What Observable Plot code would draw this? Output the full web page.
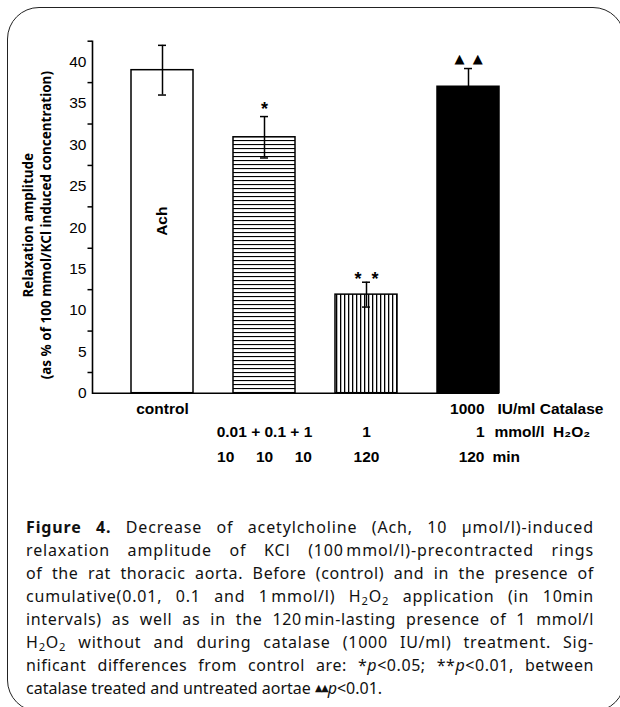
<!DOCTYPE html>
<html><head><meta charset="utf-8">
<script src="https://cdn.jsdelivr.net/npm/d3@7"></script>
<script src="https://cdn.jsdelivr.net/npm/@observablehq/plot@0.6"></script>
<style>
body{margin:0;background:#fff;width:620px;height:707px;overflow:hidden;position:relative;}
#frame{position:absolute;left:7px;top:7px;width:618px;height:705px;border:1.6px solid #222;border-radius:32px;box-sizing:border-box;}
#chart{position:absolute;left:0;top:0;}
#caption{position:absolute;left:26px;top:516px;width:568px;font-family:"Noto Sans",sans-serif;font-size:16px;color:#111;}
.ln{height:23px;line-height:23px;white-space:nowrap;}
.ln span.in{display:inline-block;}
.ln.fit{text-align:justify;text-align-last:justify;white-space:normal;}
.ln.fit span.in{display:inline;}
sub{font-size:0.7em;vertical-align:-0.3em;line-height:0;}
.tri{font-size:0.6em;vertical-align:0.35em;line-height:0;font-family:"DejaVu Sans";letter-spacing:-1px;}
</style></head><body>
<div id="frame"></div>
<div id="chart"></div>
<div id="caption">
<div class="ln"><span class="in"><b>Figure 4.</b> Decrease of acetylcholine (Ach, 10 µmol/l)-induced</span></div>
<div class="ln"><span class="in">relaxation amplitude of KCl (100&#8202;mmol/l)-precontracted rings</span></div>
<div class="ln"><span class="in">of the rat thoracic aorta. Before (control) and in the presence of</span></div>
<div class="ln"><span class="in">cumulative(0.01, 0.1 and 1&#8202;mmol/l) H<sub>2</sub>O<sub>2</sub> application (in 10min</span></div>
<div class="ln"><span class="in">intervals) as well as in the 120&#8202;min-lasting presence of 1 mmol/l</span></div>
<div class="ln"><span class="in">H<sub>2</sub>O<sub>2</sub> without and during catalase (1000 IU/ml) treatment. Sig-</span></div>
<div class="ln"><span class="in">nificant differences from control are: *<i>p</i>&lt;0.05; **<i>p</i>&lt;0.01, between</span></div>
<div class="ln last"><span class="in">catalase treated and untreated aortae <span class="tri">▲▲</span><i>p</i>&lt;0.01.</span></div>
</div>
<script>
// ---- data ----
const groups = ["control", "H2O2 cumulative", "H2O2 120 min", "H2O2 + catalase"];
const means = [39.0, 30.9, 11.9, 37.0];
const errors = [3.0, 2.5, 1.5, 2.2];
const fills = ["white", "url(#hatchH)", "url(#hatchV)", "black"];
const yTickLabels = [0, 5, 10, 15, 20, 25, 30, 35, 40];
const yTickMarks = [2.5, 7.5, 12.5, 17.5, 22.5, 27.5, 32.5, 37.5, 42.5];
const yTitle = "Relaxation amplitude\n(as % of 100 mmol/KCl induced concentration)";
const barLabel = "Ach";
const rowCatalase = ["control", "", "", "1000"];
const rowH2O2 = ["", "0.01 + 0.1 + 1", "1", "1"];
const rowMin = ["", "10\u00a0\u00a0\u00a0\u00a0\u00a010\u00a0\u00a0\u00a0\u00a0\u00a010", "120", "120"];
const units = ["IU/ml Catalase", "mmol/l\u00a0\u00a0H\u2082O\u2082", "min"];
const sigStar = ["", "*", "", ""];
const sigStar2 = ["", "", "*\u00a0\u00a0*", ""];
const sigTri = ["", "", "", "\u25B2\u00a0\u00a0\u25B2"];

const data = groups.map((g, i) => ({g, m: means[i], e: errors[i], fill: fills[i]}));
const last = groups[groups.length - 1];
const bold = {fontWeight: "bold", fontSize: 15.5, fill: "black"};

const plot = Plot.plot({
  width: 620,
  height: 490,
  marginLeft: 92,
  marginRight: 121,
  marginTop: 40.7,
  marginBottom: 97.3,
  style: {fontFamily: "'Liberation Sans', Arial, sans-serif", fontSize: "15.5px", color: "black", background: "transparent", overflow: "visible"},
  x: {domain: groups, paddingInner: 0.392, paddingOuter: 0.19, align: 1, axis: null},
  y: {domain: [0, 42.5], axis: null},
  color: {type: "identity"},
  marks: [
    Plot.barY(data, {x: "g", y: "m", fill: "fill", stroke: "black", strokeWidth: 1.5}),
    Plot.ruleX(data, {x: "g", y1: d => d.m - d.e, y2: d => d.m + d.e, stroke: "black", strokeWidth: 1.5}),
    Plot.tickY(data, {x: "g", y: d => d.m + d.e, insetLeft: 27, insetRight: 27, stroke: "black", strokeWidth: 1.5}),
    Plot.tickY(data, {x: "g", y: d => d.m - d.e, insetLeft: 27, insetRight: 27, stroke: "black", strokeWidth: 1.5}),
    Plot.ruleY([0], {stroke: "black", strokeWidth: 1.6}),
    Plot.frame({anchor: "left", stroke: "black", strokeWidth: 1.6}),
    Plot.axisY(yTickLabels, {tickSize: 0, tickPadding: 6, label: null, fontSize: 15.5}),
    Plot.axisY(yTickMarks, {tickSize: 4.5, tickFormat: () => "", label: null, strokeWidth: 1.5}),
    Plot.text([yTitle], {frameAnchor: "left", textAnchor: "middle", rotate: -90, dx: -56, dy: 8, fontWeight: "bold", fontSize: 13.5, lineHeight: 1.35, fontFamily: "'Noto Sans', sans-serif", fill: "black"}),
    Plot.text([groups[0]], {x: d => d, text: () => barLabel, frameAnchor: "middle", rotate: -90, dy: 4, ...bold}),
    Plot.text(data, {x: "g", y: d => d.m + d.e, text: (d, i) => sigStar[i], dy: -7, fontWeight: "bold", fontSize: 18, fill: "black"}),
    Plot.text(data, {x: "g", y: d => d.m + d.e, text: (d, i) => sigStar2[i], dy: -3, fontWeight: "bold", fontSize: 18, fill: "black"}),
    Plot.text(data, {x: "g", y: d => d.m + d.e, text: (d, i) => sigTri[i], dy: -10, fontSize: 13, fontFamily: "'DejaVu Sans', sans-serif", fill: "black"}),
    Plot.text(groups.slice(0, 3), {x: d => d, text: (d, i) => rowCatalase[i], frameAnchor: "bottom", dy: 21, ...bold}),
    Plot.text(groups.slice(0, 3), {x: d => d, text: (d, i) => rowH2O2[i], frameAnchor: "bottom", dy: 44, ...bold}),
    Plot.text(groups.slice(0, 3), {x: d => d, text: (d, i) => rowMin[i], frameAnchor: "bottom", dy: 69, ...bold}),
    Plot.text([last], {x: d => d, text: () => rowCatalase[3], frameAnchor: "bottom", dy: 21, textAnchor: "end", dx: 16, ...bold}),
    Plot.text([last], {x: d => d, text: () => rowH2O2[3], frameAnchor: "bottom", dy: 44, textAnchor: "end", dx: 16, ...bold}),
    Plot.text([last], {x: d => d, text: () => rowMin[3], frameAnchor: "bottom", dy: 69, textAnchor: "end", dx: 16, ...bold}),
    Plot.text([last], {x: d => d, text: () => units[0], frameAnchor: "bottom", dy: 21, textAnchor: "start", dx: 29, ...bold}),
    Plot.text([last], {x: d => d, text: () => units[1], frameAnchor: "bottom", dy: 44, textAnchor: "start", dx: 26, ...bold}),
    Plot.text([last], {x: d => d, text: () => units[2], frameAnchor: "bottom", dy: 69, textAnchor: "start", dx: 24, ...bold})
  ]
});

// hatch pattern definitions
const svg = plot.tagName.toLowerCase() === "svg" ? plot : plot.querySelector("svg");
const defs = d3.select(svg).insert("defs", ":first-child");
const ph = defs.append("pattern").attr("id", "hatchH").attr("patternUnits", "userSpaceOnUse").attr("width", 6).attr("height", 4);
ph.append("rect").attr("width", 6).attr("height", 4).attr("fill", "white");
ph.append("rect").attr("y", 0).attr("width", 6).attr("height", 1.1).attr("fill", "black");
const pv = defs.append("pattern").attr("id", "hatchV").attr("patternUnits", "userSpaceOnUse").attr("width", 4).attr("height", 6);
pv.append("rect").attr("width", 4).attr("height", 6).attr("fill", "white");
pv.append("rect").attr("x", 0).attr("width", 1.3).attr("height", 6).attr("fill", "black");

document.getElementById("chart").appendChild(plot);

// fit each caption line (except the last) to the column width
const colW = 568;
document.querySelectorAll("#caption .ln:not(.last)").forEach(div => {
  const s = div.querySelector("span.in");
  const n = s.textContent.length;
  const w = s.getBoundingClientRect().width;
  if (w > colW) {
    s.style.letterSpacing = ((colW - w) / n - 0.02) + "px";
  } else {
    s.style.letterSpacing = ((colW - w) * 0.45 / n) + "px";
    div.classList.add("fit");
  }
});
</script>
</body></html>
